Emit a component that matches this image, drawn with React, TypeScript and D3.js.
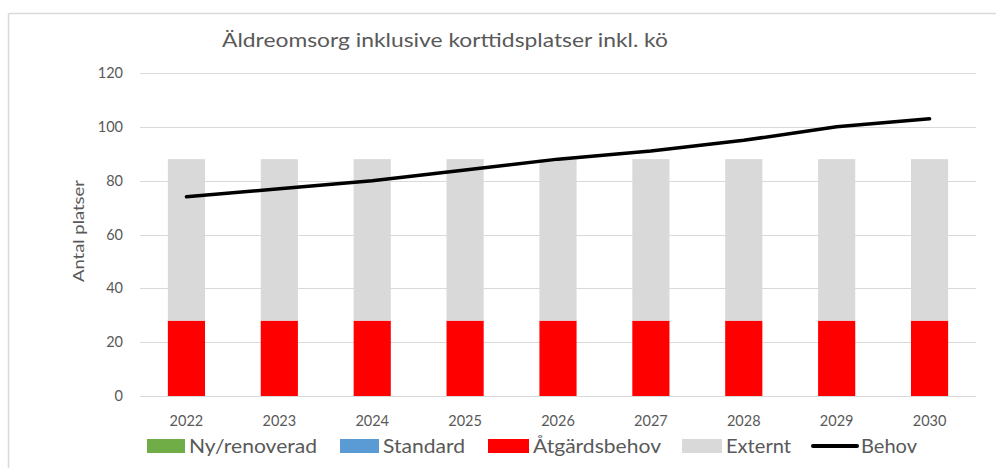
import React from 'react'
import * as d3 from 'd3'

// data
const years = ['2022', '2023', '2024', '2025', '2026', '2027', '2028', '2029', '2030']
const nyRenoverad = [0, 0, 0, 0, 0, 0, 0, 0, 0]
const standard = [0, 0, 0, 0, 0, 0, 0, 0, 0]
const atgardsbehov = [28, 28, 28, 28, 28, 28, 28, 28, 28]
const externt = [60, 60, 60, 60, 60, 60, 60, 60, 60]
const behov = [74, 77, 80, 84, 88, 91, 95, 100, 103]
const yTicks = [0, 20, 40, 60, 80, 100, 120]

const seriesNames = ['Ny/renoverad', 'Standard', 'Åtgärdsbehov', 'Externt']
const seriesColors = ['#70ad47', '#5b9bd5', '#ff0000', '#d9d9d9']

const W = 996
const H = 468
const FONT = 'Lato, "Open Sans", sans-serif'
const TXT = '#595959'

const App: React.FC = () => {
  const margin = { left: 140, right: 20, top: 73, bottom: 72 }
  const innerW = W - margin.left - margin.right
  const innerH = H - margin.top - margin.bottom

  const x = d3.scaleBand().domain(years).range([0, innerW]).paddingInner(0.6).paddingOuter(0.3)
  const xc = (y: string) => (x(y) || 0) + x.bandwidth() / 2
  const y = d3.scaleLinear().domain([0, 120]).range([innerH, 0])

  // stack the bar series
  const rows = years.map((yr, i) => ({
    year: yr,
    'Ny/renoverad': nyRenoverad[i],
    Standard: standard[i],
    'Åtgärdsbehov': atgardsbehov[i],
    Externt: externt[i],
  }))
  const stacked = d3.stack<any>().keys(seriesNames)(rows)

  const line = d3.line<number>()
    .x((_, i) => xc(years[i]))
    .y(d => y(d))

  // legend positions (px)
  const legend = [
    { name: 'Ny/renoverad', x: 147, w: 38, tw: 128, kind: 'rect', color: seriesColors[0] },
    { name: 'Standard', x: 340, w: 39, tw: 82, kind: 'rect', color: seriesColors[1] },
    { name: 'Åtgärdsbehov', x: 488, w: 41, tw: 128, kind: 'rect', color: seriesColors[2] },
    { name: 'Externt', x: 682, w: 40, tw: 65, kind: 'rect', color: seriesColors[3] },
    { name: 'Behov', x: 813, w: 44, tw: 56, kind: 'line', color: '#000' },
  ]

  return (
    <svg width={W} height={H} style={{ position: 'absolute', left: 0, top: 0, background: '#fff' }}>
      {/* chart frame (cropped) */}
      <line x1={8.5} x2={8.5} y1={13.5} y2={H} stroke="#d9d9d9" strokeWidth={1.5} />
      <line x1={8.5} x2={W} y1={13.5} y2={13.5} stroke="#d9d9d9" strokeWidth={1.5} />

      <text x={222} y={47} fontFamily={FONT} fontSize={20} fill={TXT} textLength={446} lengthAdjust="spacingAndGlyphs">
        Äldreomsorg inklusive korttidsplatser inkl. kö
      </text>

      <g transform={`translate(${margin.left},${margin.top})`}>
        {yTicks.map(t => (
          <g key={t}>
            <line x1={0} x2={innerW} y1={Math.round(y(t)) + 0.5} y2={Math.round(y(t)) + 0.5} stroke="#d9d9d9" strokeWidth={1} />
            <text x={-17} y={y(t)} dy="0.35em" textAnchor="end" fontFamily={FONT} fontSize={14.5} fill={TXT}>{t}</text>
          </g>
        ))}

        {stacked.map((s, si) => (
          <g key={s.key} fill={seriesColors[si]}>
            {s.map((d, i) => (
              <rect key={i} x={x(years[i])} width={x.bandwidth()} y={y(d[1])} height={Math.max(0, y(d[0]) - y(d[1]))} />
            ))}
          </g>
        ))}

        <path d={line(behov) || ''} fill="none" stroke="#000" strokeWidth={3.5} strokeLinecap="round" strokeLinejoin="round" />

        {years.map(yr => (
          <text key={yr} x={xc(yr)} y={innerH + 25} dy="0.35em" textAnchor="middle" fontFamily={FONT} fontSize={14.5} fill={TXT}>{yr}</text>
        ))}
      </g>

      <text transform={`translate(79,231) rotate(-90)`} textAnchor="middle" dy="0.35em" fontFamily={FONT} fontSize={15.5} fill={TXT} textLength={102} lengthAdjust="spacingAndGlyphs">
        Antal platser
      </text>

      <g fontFamily={FONT} fontSize={20} fill={TXT}>
        {legend.map(l => (
          <g key={l.name}>
            {l.kind === 'rect'
              ? <rect x={l.x} y={439} width={l.w} height={14} fill={l.color} />
              : <line x1={l.x} x2={l.x + l.w} y1={446} y2={446} stroke={l.color} strokeWidth={4} strokeLinecap="round" />}
            <text x={l.x + l.w + 4} y={446} dy="0.35em" textLength={l.tw} lengthAdjust="spacingAndGlyphs">{l.name}</text>
          </g>
        ))}
      </g>
    </svg>
  )
}

export default App
